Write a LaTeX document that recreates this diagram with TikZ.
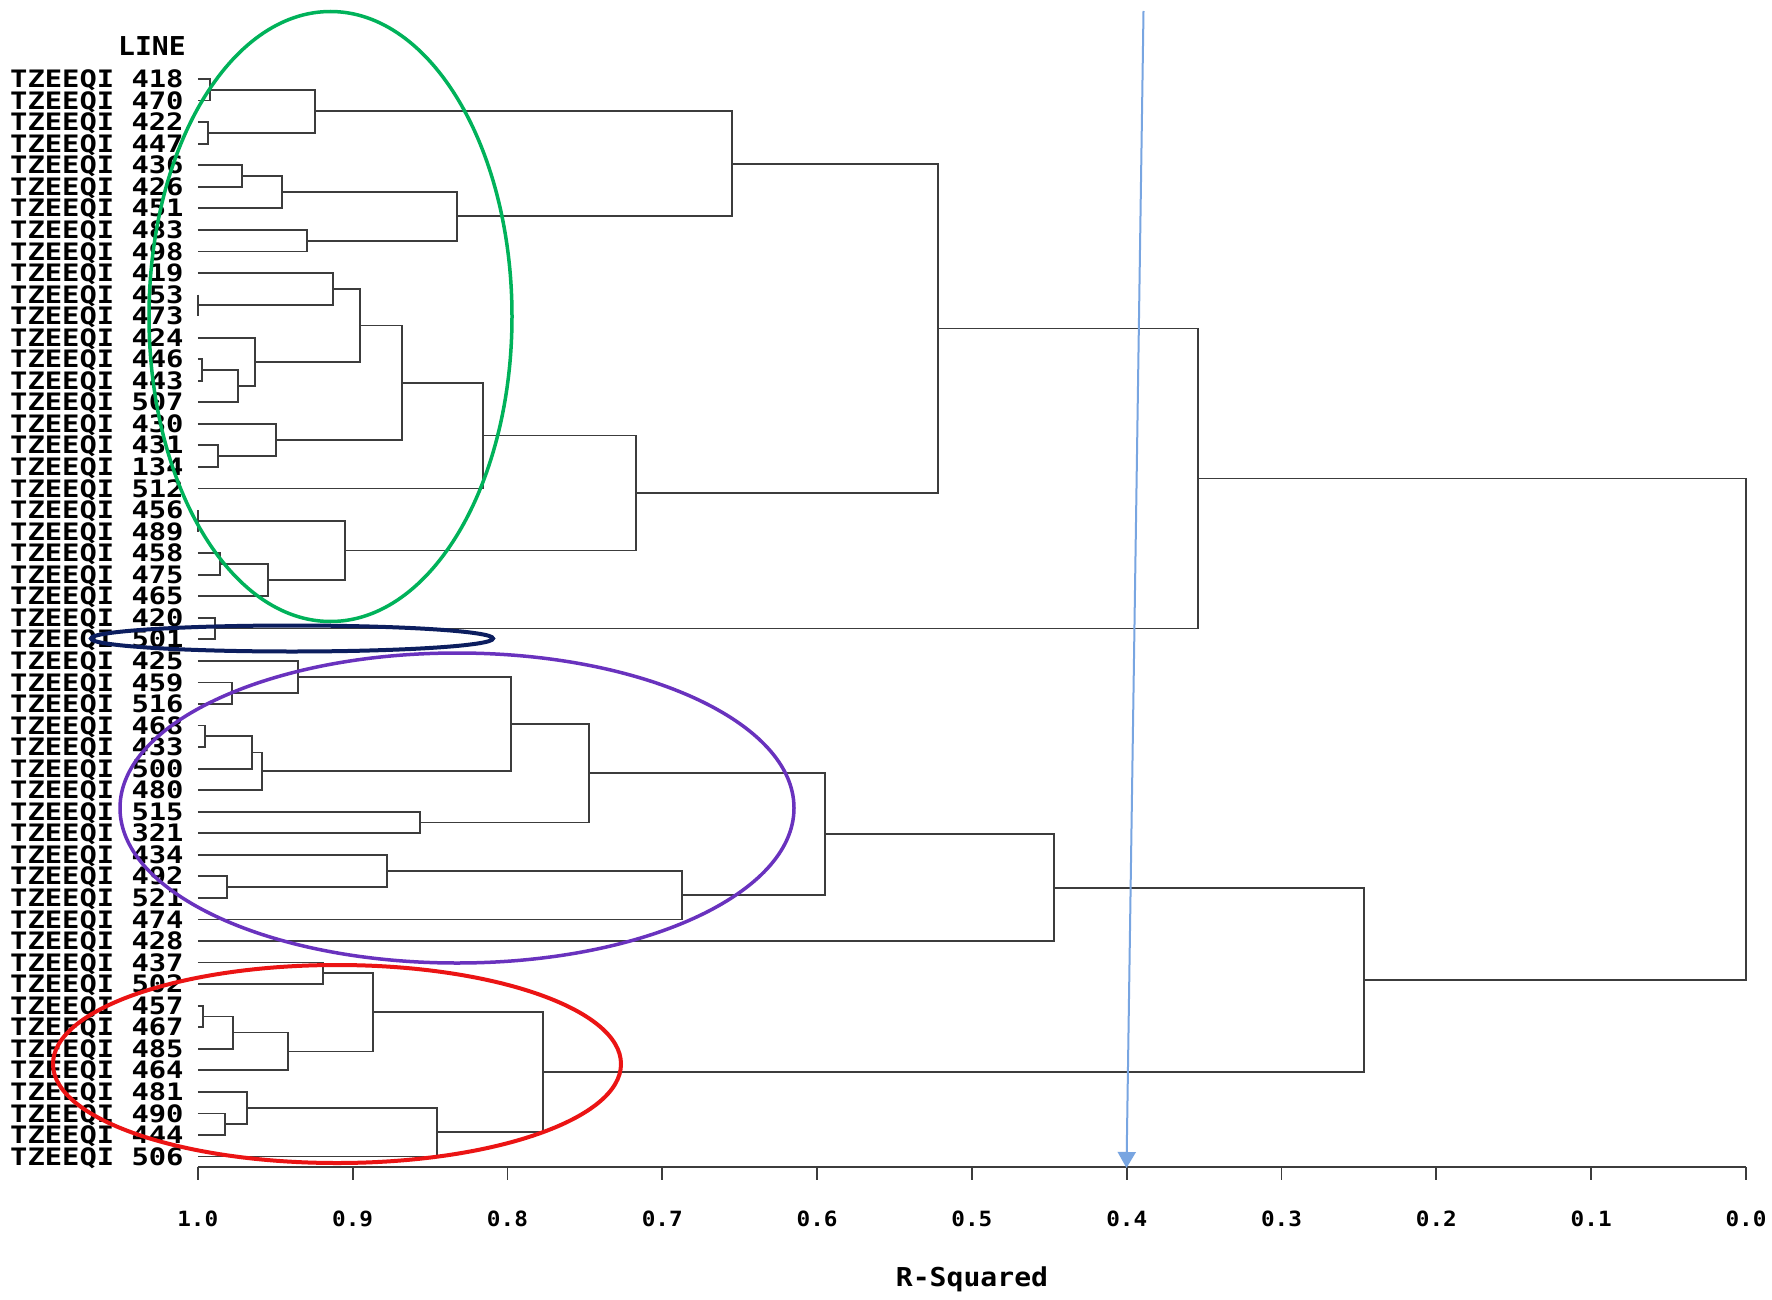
\documentclass[tikz,border=0pt]{standalone}
\usepackage{fontspec}
\newfontfamily\monofnt[FakeStretch=1.2]{DejaVu Sans Mono}
\newfontfamily\tickfnt[FakeStretch=1.08]{DejaVu Sans Mono}
\usetikzlibrary{calc,arrows.meta}
\definecolor{ellgreen}{RGB}{0,178,90}
\definecolor{ellnavy}{RGB}{12,30,95}
\definecolor{ellpurple}{RGB}{105,50,190}
\definecolor{ellred}{RGB}{235,20,20}
\definecolor{cutblue}{RGB}{120,165,225}
\definecolor{dendgray}{RGB}{60,60,60}
\newcommand\dm[4]{%
  \coordinate (#1m) at ($(#2)!.5!(#3)$);
  \coordinate (#1) at (#4,0 |- #1m);
  \draw[dend] (#2) -- (#2 -| #1) -- (#3 -| #1) -- (#3);
}
\begin{document}
\begin{tikzpicture}[x=1pt,y=-1pt,
  dend/.style={draw=dendgray,line width=1.8pt},
  leaflab/.style={anchor=base west,inner sep=0pt,font=\monofnt\bfseries\fontsize{24}{24}\selectfont},
  ticklab/.style={anchor=base,inner sep=0pt,font=\tickfnt\bfseries\fontsize{21}{21}\selectfont},
  ring/.style={line width=3.5pt},
]
\fill[white] (0,0) rectangle (1772,1300);
\useasboundingbox (0,0) rectangle (1772,1300);

\node[leaflab,anchor=base east,font=\tickfnt\bfseries\fontsize{26}{26}\selectfont] (hdr) at (186,56) {LINE};

\foreach \lab [count=\i from 0] in {418,470,422,447,436,426,451,483,498,419,453,473,424,446,443,507,430,431,134,512,456,489,458,475,465,420,501,425,459,516,468,433,500,480,515,321,434,492,521,474,428,437,502,457,467,485,464,481,490,444,506}{
  \node[leaflab] (t\i) at (10,{79+21.55*\i+8.6}) {TZEEQI \lab};
  \coordinate (L\i) at (197.8,{79+21.55*\i});
}

% upper branch
\dm{m1}{L0}{L1}{210}
\dm{m2}{L2}{L3}{208}
\dm{m3}{m1}{m2}{315}
\dm{m4}{L4}{L5}{241.7}
\dm{m5}{m4}{L6}{281.7}
\dm{m6}{L7}{L8}{306.7}
\dm{m7}{m5}{m6}{456.7}
\dm{m8}{m3}{m7}{732}
\dm{m9}{L10}{L11}{197.8}
\dm{m10}{L9}{m9}{333.3}
\dm{m11}{L13}{L14}{201.7}
\dm{m12}{m11}{L15}{238.3}
\dm{m13}{L12}{m12}{255}
\dm{m14}{m10}{m13}{360}
\dm{m15}{L17}{L18}{218.3}
\dm{m16}{L16}{m15}{276}
\dm{m17}{m14}{m16}{401.7}
\dm{m18}{m17}{L19}{483.3}
\dm{m19}{L20}{L21}{197.8}
\dm{m20}{L22}{L23}{220}
\dm{m21}{m20}{L24}{268.3}
\dm{m22}{m19}{m21}{345}
\dm{m23}{m18}{m22}{636}
\dm{m24}{m8}{m23}{938}
\dm{m25}{L25}{L26}{215}
\dm{m26}{m24}{m25}{1198}

% lower branch
\dm{n1}{L28}{L29}{231.7}
\dm{n2}{L27}{n1}{298.3}
\dm{n3}{L30}{L31}{205}
\dm{n4}{n3}{L32}{251.7}
\dm{n5}{n4}{L33}{261.7}
\dm{n6}{n2}{n5}{511}
\dm{n7}{L34}{L35}{420}
\dm{n8}{n6}{n7}{589}
\dm{n9}{L37}{L38}{226.7}
\dm{n10}{L36}{n9}{387}
\dm{n11}{n10}{L39}{682}
\dm{n12}{n8}{n11}{825}
\dm{n13}{n12}{L40}{1054}
\dm{r1}{L41}{L42}{323}
\dm{r2}{L43}{L44}{203.3}
\dm{r3}{r2}{L45}{233.3}
\dm{r4}{r3}{L46}{288.3}
\dm{r5}{r1}{r4}{373.3}
\dm{r6}{L48}{L49}{225}
\dm{r7}{L47}{r6}{246.7}
\dm{r8}{r7}{L50}{436.7}
\dm{r9}{r5}{r8}{543.3}
\dm{n14}{n13}{r9}{1364}
\dm{root}{m26}{n14}{1746}

% axis
\coordinate (ax0) at (197.8,1167);
\coordinate (ax1) at (1746,1167);
\draw[dend] (ax0) -- (ax1);
\foreach \k/\v in {0/1.0,1/0.9,2/0.8,3/0.7,4/0.6,5/0.5,6/0.4,7/0.3,8/0.2,9/0.1,10/0.0}{
  \coordinate (tk\k) at ({197.8+154.82*\k},1167);
  \draw[dend] (tk\k) -- ++(0,13);
  \node[ticklab] (tl\k) at ({197.8+154.82*\k},1226) {\v};
}
\node[leaflab,anchor=base,font=\tickfnt\bfseries\fontsize{26}{26}\selectfont] (xlab) at (972,1286) {R-Squared};

% cluster rings
\draw[ring,ellgreen] (330.5,316.5) ellipse [x radius=181.5pt, y radius=305pt];
\draw[ring,ellnavy,line width=4pt] (292,638.5) ellipse [x radius=201pt, y radius=13pt];
\draw[ring,ellpurple] (457,808) ellipse [x radius=337pt, y radius=155pt];
\draw[ring,ellred,line width=4pt] (337,1064) ellipse [x radius=284pt, y radius=99pt];

% cut line
\coordinate (cutA) at (1143.5,11);
\coordinate (cutB) at (1126.5,1168);
\draw[cutblue,line width=2pt,-{Triangle[width=18pt,length=16pt]}] (cutA) -- (cutB);
\end{tikzpicture}
\end{document}
